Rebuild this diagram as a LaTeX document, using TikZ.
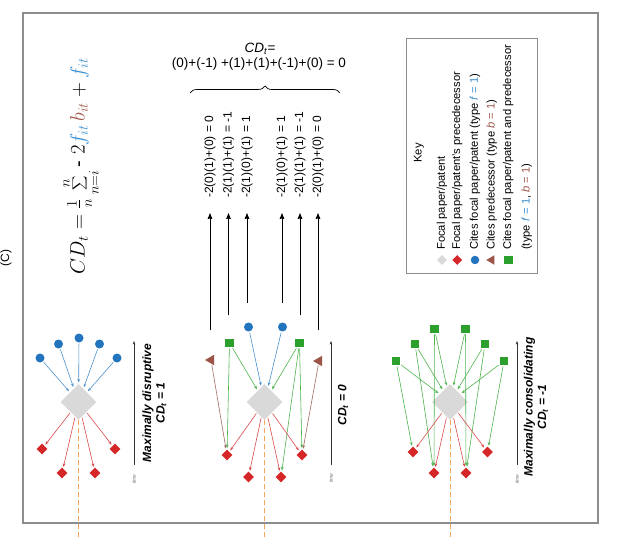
\documentclass[tikz,border=0pt]{standalone}
\usepackage[no-math]{fontspec}
\setmainfont{Liberation Sans}
\usetikzlibrary{shapes.geometric,arrows.meta,decorations.pathreplacing}
\definecolor{focalgray}{HTML}{D9D9D9}
\definecolor{predred}{HTML}{D62728}
\definecolor{citeblue}{HTML}{2274BF}
\definecolor{citegreen}{HTML}{2CA02C}
\definecolor{citebrown}{HTML}{9C5548}
\definecolor{arrred}{HTML}{D9494B}
\definecolor{arrblue}{HTML}{4A90CC}
\definecolor{arrgreen}{HTML}{4DB34D}
\definecolor{arrbrown}{HTML}{9E6B60}
\definecolor{dashorange}{HTML}{F5A55A}
\definecolor{framegray}{HTML}{8C8C8C}
\definecolor{txtblue}{HTML}{3A8FD0}
\definecolor{txtbrown}{HTML}{A0594D}
\begin{document}
\begin{tikzpicture}[x=1pt,y=-1pt,
  focal/.style={diamond, fill=focalgray, inner sep=0pt, minimum size=36pt},
  pred/.style={diamond, fill=predred, inner sep=0pt, minimum size=11pt},
  fcite/.style={circle, fill=citeblue, inner sep=0pt, minimum size=9pt},
  bcite/.style={regular polygon, regular polygon sides=3, shape border rotate=90, fill=citebrown, inner sep=0pt, minimum size=12pt},
  fbcite/.style={rectangle, fill=citegreen, inner sep=0pt, minimum size=8.5pt},
  arr/.style={line width=0.6pt, -{Stealth[length=3.6pt,width=2.8pt]}, shorten >=1.5pt, shorten <=1pt},
  barr/.style={arr, draw=arrblue},
  rarr/.style={arr, draw=arrred},
  garr/.style={arr, draw=arrgreen},
  brarr/.style={arr, draw=arrbrown},
  timearr/.style={line width=0.5pt, draw=black!80, -{Stealth[length=3.5pt,width=2.6pt]}},
  calcarr/.style={line width=0.8pt, -{Stealth[length=6pt,width=4.6pt,inset=0.6pt]}},
  dashline/.style={dashorange, line width=0.9pt, dash pattern=on 5pt off 3pt},
  lab/.style={rotate=90, font=\fontsize{12}{14}\selectfont, anchor=west, inner sep=0pt},
  keytxt/.style={rotate=90, font=\fontsize{11.2}{13}\selectfont, anchor=west, inner sep=0pt},
  ttl/.style={rotate=90, font=\bfseries\itshape\fontsize{12}{13.5}\selectfont, align=center, inner sep=0pt},
  timelab/.style={rotate=90, font=\itshape\fontsize{5}{6}\selectfont, text=black!55, inner sep=0pt}
]
\useasboundingbox (0,0) rectangle (632,540);

% frame and panel label
\draw[framegray, line width=1.2pt] (23,13) rectangle (598,523);
\node[rotate=90, font=\fontsize{12}{14}\selectfont] (panel) at (6,258) {(C)};

% formula
\node[rotate=90, inner sep=0pt] (formula) at (81,166) {\fontsize{20}{24}\selectfont
  $\displaystyle CD_t = {\textstyle\frac{1}{n}}\sum_{n=i}^{n} \mbox{-}\; 2 {\color{txtblue}f_{it}}\,{\color{txtbrown}b_{it}} + {\color{txtblue}f_{it}}$};

% ===== Maximally disruptive =====
\node[focal] (d1) at (78.5,402) {};
\coordinate (d1end) at (78.5,540);
\draw[dashline] (d1.south) -- (d1end);
\node[fcite] (d1b1) at (40,358) {};
\node[fcite] (d1b2) at (58.5,344) {};
\node[fcite] (d1b3) at (79,338) {};
\node[fcite] (d1b4) at (99.5,344) {};
\node[fcite] (d1b5) at (117,358) {};
\node[pred] (d1r1) at (42,449) {};
\node[pred] (d1r2) at (62,473) {};
\node[pred] (d1r3) at (95,473) {};
\node[pred] (d1r4) at (115,449) {};
\foreach \i in {1,...,5} \draw[barr] (d1b\i) -- (d1);
\foreach \i in {1,...,4} \draw[rarr] (d1) -- (d1r\i);
\coordinate (t1a) at (134,465); \coordinate (t1b) at (134,341);
\draw[timearr] (t1a) -- (t1b);
\node[timelab] (time1) at (134,479) {time};
\node[ttl] (ttl1) at (154.5,403) {Maximally disruptive\\\textit{CD}\textsubscript{\textit{t}} = 1};

% ===== CD = 0 =====
\node[focal] (d2) at (264.5,402) {};
\coordinate (d2end) at (264.5,540);
\draw[dashline] (d2.south) -- (d2end);
\node[fcite] (d2b1) at (248.5,327) {};
\node[fcite] (d2b2) at (282.5,327) {};
\node[fbcite] (d2g1) at (229.5,343) {};
\node[fbcite] (d2g2) at (299.5,343) {};
\node[bcite] (d2t1) at (211,360) {};
\node[bcite] (d2t2) at (319,361) {};
\node[pred] (d2r1) at (227,455) {};
\node[pred] (d2r2) at (248.5,477) {};
\node[pred] (d2r3) at (281,477) {};
\node[pred] (d2r4) at (302,455) {};
\draw[barr] (d2b1) -- (d2);
\draw[barr] (d2b2) -- (d2);
\draw[garr] (d2g1) -- (d2);
\draw[garr] (d2g1) -- (d2r1);
\draw[garr] (d2g2) -- (d2);
\draw[garr] (d2g2) -- (d2r4);
\draw[garr] (d2g2) -- (d2r3);
\draw[brarr] (d2t1) -- (d2r1);
\draw[brarr] (d2t2) -- (d2r4);
\foreach \i in {1,...,4} \draw[rarr] (d2) -- (d2r\i);
\coordinate (t2a) at (331,465); \coordinate (t2b) at (331,341);
\draw[timearr] (t2a) -- (t2b);
\node[timelab] (time2) at (331,478) {time};
\node[ttl] (ttl2) at (343,405) {\textit{CD}\textsubscript{\textit{t}} = 0};

% calculation arrows and labels
\foreach \n/\x/\y/\t in {1/210/330/{-2(0)(1)+(0) = 0},2/228.5/315/{-2(1)(1)+(1) = -1},3/247/303/{-2(1)(0)+(1) = 1},4/282/303/{-2(1)(0)+(1) = 1},5/300/315/{-2(1)(1)+(1) = -1},6/318/330/{-2(0)(1)+(0) = 0}}{
  \coordinate (c\n s) at (\x,\y);
  \coordinate (c\n e) at (\x,213);
  \draw[calcarr] (c\n s) -- (c\n e);
  \node[lab] (c\n lab) at (\x,198) {\t};
}
\draw[line width=0.7pt, decorate, decoration={brace, amplitude=7pt}] (190,93) -- (340,93);
\node[font=\fontsize{13.5}{15}\selectfont] (cdt) at (260,49) {\textit{CD}\textsubscript{\textit{t}}=};
\node[font=\fontsize{13.5}{15}\selectfont] (cdsum) at (259,64) {(0)+(-1) +(1)+(1)+(-1)+(0) = 0};

% ===== Maximally consolidating =====
\node[focal] (d3) at (450,402) {};
\coordinate (d3end) at (450,540);
\draw[dashline] (d3.south) -- (d3end);
\node[fbcite] (d3g1) at (396,361) {};
\node[fbcite] (d3g2) at (415,344) {};
\node[fbcite] (d3g3) at (434.5,329) {};
\node[fbcite] (d3g4) at (465.5,329) {};
\node[fbcite] (d3g5) at (485,344) {};
\node[fbcite] (d3g6) at (504,361) {};
\node[pred] (d3r1) at (413,452) {};
\node[pred] (d3r2) at (434,473) {};
\node[pred] (d3r3) at (466,473) {};
\node[pred] (d3r4) at (487.5,452) {};
\foreach \i in {1,...,6} \draw[garr] (d3g\i) -- (d3);
\draw[garr] (d3g1) -- (d3r1);
\draw[garr] (d3g2) -- (d3r2);
\draw[garr] (d3g3) -- (d3r2);
\draw[garr] (d3g4) -- (d3r3);
\draw[garr] (d3g5) -- (d3r3);
\draw[garr] (d3g6) -- (d3r4);
\foreach \i in {1,...,4} \draw[rarr] (d3) -- (d3r\i);
\coordinate (t3a) at (517,465); \coordinate (t3b) at (517,341);
\draw[timearr] (t3a) -- (t3b);
\node[timelab] (time3) at (517,479) {time};
\node[ttl] (ttl3) at (536,407) {Maximally consolidating\\\textit{CD}\textsubscript{\textit{t}} = -1};

% ===== Key =====
\draw[framegray, line width=0.9pt] (406,38) rectangle (537,273);
\node[rotate=90, font=\fontsize{11.2}{13}\selectfont] (keyttl) at (419,153) {Key};
\node[focal, minimum size=10pt] (k1s) at (442,260) {};
\node[pred, minimum size=10pt] (k2s) at (457.3,260) {};
\node[fcite, minimum size=8.5pt] (k3s) at (475,260) {};
\node[bcite, minimum size=11pt] (k4s) at (491.7,260) {};
\node[fbcite, minimum size=8.5pt] (k5s) at (508.3,260) {};
\node[keytxt] (k1) at (442,250) {Focal paper/patent};
\node[keytxt] (k2) at (457.3,250) {Focal paper/patent's precedecessor};
\node[keytxt] (k3) at (475,250) {Cites focal paper/patent (type {\color{txtblue}\textit{f} = 1})};
\node[keytxt] (k4) at (491.7,250) {Cites predecessor (type {\color{txtbrown}\textit{b} = 1})};
\node[keytxt] (k5) at (508.3,250) {Cites focal paper/patent and predecessor};
\node[keytxt] (k6) at (526.7,250) {(type {\color{txtblue}\textit{f} = 1}, {\color{txtbrown}\textit{b} = 1})};
\end{tikzpicture}
\end{document}
